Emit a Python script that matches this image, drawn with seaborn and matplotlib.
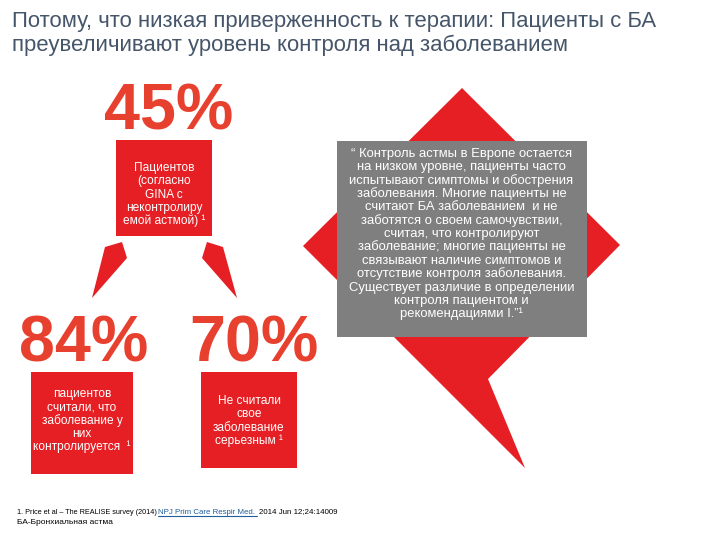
import matplotlib.pyplot as plt
import seaborn as sns
from matplotlib.patches import Polygon, Rectangle

sns.set_theme(style='white')
plt.rcParams['font.family'] = ['Liberation Sans', 'DejaVu Sans']

title_lines = ['Потому, что низкая приверженность к терапии: Пациенты с БА',
               'преувеличивают уровень контроля над заболеванием']

percents = [45, 84, 70]
captions = [
    ['Пациентов', '(согласно', 'GINA с', 'неконтролиру', 'емой астмой) ¹'],
    ['пациентов', 'считали, что', 'заболевание у', 'них', 'контролируется  ¹'],
    ['Не считали', 'свое', 'заболевание', 'серьезным ¹'],
]
quote_lines = [
    '“ Контроль астмы в Европе остается',
    'на низком уровне, пациенты часто',
    'испытывают симптомы и обострения',
    'заболевания. Многие пациенты не',
    'считают БА заболеванием  и не',
    'заботятся о своем самочувствии,',
    'считая, что контролируют',
    'заболевание; многие пациенты не',
    'связывают наличие симптомов и',
    'отсутствие контроля заболевания.',
    'Существует различие в определении',
    'контроля пациентом и',
    'рекомендациями I.”¹',
]

red = '#e51f24'
pct_red = '#e8402f'
grey = '#7f7f7f'
title_col = '#46566a'

fig, ax = plt.subplots(figsize=(7.2, 5.4), dpi=100)
fig.subplots_adjust(left=0, right=1, bottom=0, top=1)
ax.set_xlim(0, 720)
ax.set_ylim(540, 0)
sns.despine(ax=ax, left=True, bottom=True)
ax.set_xticks([])
ax.set_yticks([])

for y, line in zip([27, 51], title_lines):
    ax.text(11.5, y, line, fontsize=15.9, color=title_col, va='baseline', ha='left')

# callout behind the grey box
ax.add_patch(Polygon([(462, 88), (620, 245), (488, 379), (525, 468), (303, 246)],
                     closed=True, fc=red, ec='none'))
ax.add_patch(Rectangle((337, 141), 250, 196, fc=grey, ec='none'))
for i, line in enumerate(quote_lines):
    ax.text(461.5, 157 + i * 13.35, line, fontsize=9.4, color='white', ha='center', va='baseline')

# small arrows between the boxes
ax.add_patch(Polygon([(105, 247), (122, 242), (127, 258), (92, 298)], closed=True, fc=red, ec='none'))
ax.add_patch(Polygon([(207, 242), (223, 247), (237, 298), (202, 258)], closed=True, fc=red, ec='none'))

# percent + red box
pct_x = [168.5, 84, 254]
pct_base = [129, 361, 361]
boxes = [(116, 140, 96, 96), (31, 372, 102, 102), (201, 372, 96, 96)]
first_line = [171, 397, 404]
for p, cap, x, base, box, y0 in zip(percents, captions, pct_x, pct_base, boxes, first_line):
    ax.text(x, base, f'{p}%', fontsize=46.5, fontweight='bold', color=pct_red,
            ha='center', va='baseline')
    ax.add_patch(Rectangle(box[:2], box[2], box[3], fc=red, ec='none'))
    for i, line in enumerate(cap):
        ax.text(box[0] + box[2] / 2, y0 + i * 13.3, line, fontsize=8.6, color='white',
                ha='center', va='baseline')

# footnote
ax.text(17, 513.5, '1. Price et al – The REALISE survey (2014)', fontsize=5.2, color='black',
        ha='left', va='baseline')
ax.text(158, 513.5, 'NPJ Prim Care Respir Med.', fontsize=5.7, color='#1f5f9e', ha='left', va='baseline')
ax.plot([158, 257], [516, 516], color='#1f5f9e', lw=0.8)
ax.text(259, 513.5, '2014 Jun 12;24:14009', fontsize=5.7, color='black', ha='left', va='baseline')
ax.text(17, 523.5, 'БА-Бронхиальная астма', fontsize=6, color='black', ha='left', va='baseline')

fig.savefig('out.png', dpi=100)
